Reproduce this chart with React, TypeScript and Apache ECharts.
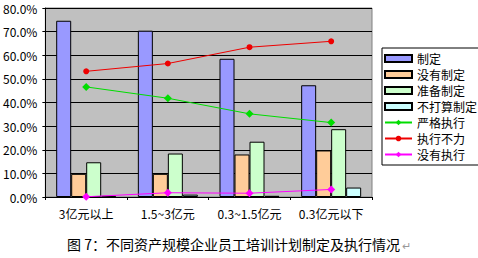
import React, { useEffect, useRef } from "react";
import * as echarts from "echarts";

const categories = ["3亿元以上", "1.5~3亿元", "0.3~1.5亿元", "0.3亿元以下"];
const zhiding = [74.6, 70.4, 58.5, 47.3];
const meiyouZhiding = [9.8, 9.8, 18.0, 19.7];
const zhunbeiZhiding = [14.7, 18.4, 23.4, 28.7];
const budasuanZhiding = [0.5, 1.0, 0.5, 4.0];
const yangeZhixing = [46.6, 41.8, 35.2, 31.5];
const zhixingBuli = [53.2, 56.5, 63.4, 65.9];
const meiyouZhixing = [0.1, 1.8, 1.6, 3.2];
const titleText = "图 7：不同资产规模企业员工培训计划制定及执行情况";

const FONT = "'Noto Sans CJK SC', 'Noto Sans', sans-serif";

export default function App() {
  const ref = useRef<HTMLDivElement>(null);
  useEffect(() => {
    document.body.style.margin = "0";
    const chart = echarts.init(ref.current!, null, { renderer: "svg" });
    const bar = (name: string, data: number[], color: string) => ({
      name,
      type: "bar",
      data,
      barWidth: 15,
      barGap: "0%",
      itemStyle: { color, borderColor: "#000", borderWidth: 1 },
    });
    const line = (name: string, data: number[], color: string, symbol: string, size: number) => ({
      name,
      type: "line",
      data,
      symbol,
      symbolSize: size,
      lineStyle: { color, width: 1 },
      itemStyle: { color },
    });
    chart.setOption({
      animation: false,
      textStyle: { fontFamily: FONT },
      grid: {
        left: 42,
        top: 8,
        width: 330,
        height: 189,
        show: true,
        backgroundColor: "#C0C0C0",
        borderColor: "#808080",
        borderWidth: 1,
      },
      xAxis: {
        type: "category",
        data: categories,
        axisLine: { lineStyle: { color: "#000" } },
        axisTick: { show: true, length: 3, lineStyle: { color: "#000" } },
        axisLabel: { color: "#000", fontSize: 12, margin: 10, interval: 0, fontFamily: FONT },
      },
      yAxis: {
        type: "value",
        min: 0,
        max: 80,
        interval: 10,
        axisLine: { show: true, lineStyle: { color: "#000" } },
        axisTick: { show: true, length: 3, lineStyle: { color: "#000" } },
        axisLabel: {
          color: "#000",
          fontSize: 12,
          margin: 8,
          fontFamily: FONT,
          formatter: (v: number) => v.toFixed(1) + "%",
        },
        splitLine: { show: true, lineStyle: { color: "#000", width: 1 } },
      },
      legend: {
        orient: "vertical",
        left: 382,
        top: 48,
        padding: [4, 3, 4, 2],
        backgroundColor: "#fff",
        borderColor: "#000",
        borderWidth: 1,
        borderRadius: 0,
        itemWidth: 27,
        itemHeight: 7,
        itemGap: 3,
        textStyle: { fontSize: 12, lineHeight: 13, color: "#000", fontFamily: FONT },
        data: [
          { name: "制定", icon: "rect" },
          { name: "没有制定", icon: "rect" },
          { name: "准备制定", icon: "rect" },
          { name: "不打算制定", icon: "rect" },
          "严格执行",
          "执行不力",
          "没有执行",
        ],
      },
      graphic: [
        {
          type: "text",
          left: 67,
          top: 237,
          style: { text: titleText, fontSize: 14, fill: "#000", fontFamily: FONT },
        },
        {
          type: "text",
          left: 402,
          top: 239,
          style: { text: "↵", fontSize: 11, fill: "#999", fontFamily: FONT },
        },
      ],
      series: [
        bar("制定", zhiding, "#9999FF"),
        bar("没有制定", meiyouZhiding, "#FFCC99"),
        bar("准备制定", zhunbeiZhiding, "#CCFFCC"),
        bar("不打算制定", budasuanZhiding, "#CCFFFF"),
        line("严格执行", yangeZhixing, "#00DD00", "diamond", 8),
        line("执行不力", zhixingBuli, "#EE0000", "circle", 6),
        line("没有执行", meiyouZhixing, "#FF00FF", "diamond", 8),
      ],
    });
    return () => chart.dispose();
  }, []);
  return <div ref={ref} style={{ width: 478, height: 258 }} />;
}
